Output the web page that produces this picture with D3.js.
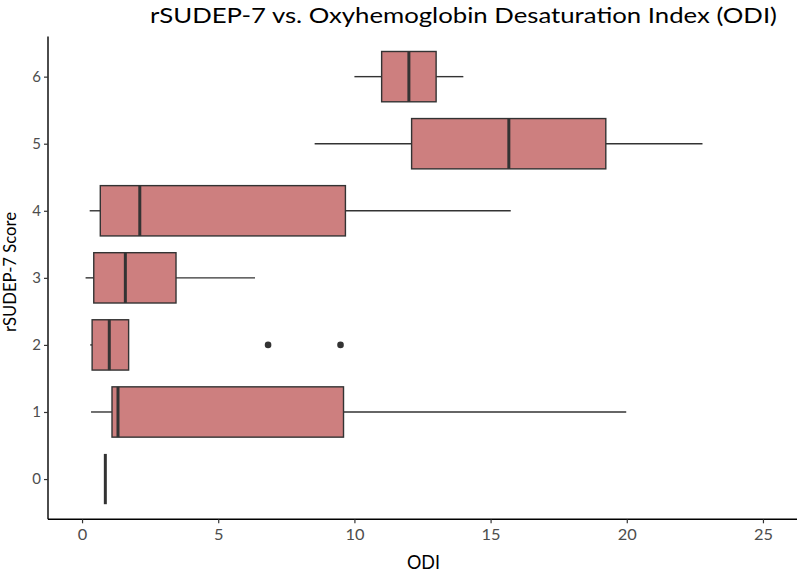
<!DOCTYPE html>
<html><head><meta charset="utf-8">
<script src="https://cdn.jsdelivr.net/npm/d3@7"></script>
<style>body{margin:0;background:#fff;} text{font-family:Lato,"Open Sans",sans-serif;}</style>
</head><body><svg id="c" width="800" height="574"></svg>
<script>
const categories = ["0","1","2","3","4","5","6"];
const whiskerLow = [0.855, 0.33, 0.30, 0.13, 0.28, 8.54, 10.0];
const q1 =         [0.855, 1.10, 0.37, 0.43, 0.67, 12.1, 11.0];
const medians =    [0.855, 1.32, 1.00, 1.59, 2.12, 15.67, 12.0];
const q3 =         [0.855, 9.60, 1.71, 3.45, 9.67, 19.23, 13.0];
const whiskerHigh =[0.855, 19.98, 1.71, 6.35, 15.74, 22.78, 14.0];
const outlierCat = ["2","2"];
const outlierVal = [6.83, 9.49];
const xTicks = [0,5,10,15,20,25];
const title = "rSUDEP-7 vs. Oxyhemoglobin Desaturation Index (ODI)";
const xTitle = "ODI";
const yTitle = "rSUDEP-7 Score";

const svg = d3.select("#c");
const L=48, R=797, T=36.4, B=519.3;
const x = d3.scaleLinear().domain([-1.25, 26.25]).range([L, R]);
const y = d3.scalePoint().domain(categories).range([B, T]).padding(0.6);
const step = y.step();
const bh = step*0.75;

const data = categories.map((c,i)=>({c, lo:whiskerLow[i], q1:q1[i], med:medians[i], q3:q3[i], hi:whiskerHigh[i]}));
const g = svg.append("g");
data.forEach(d=>{
  const cy = y(d.c);
  g.append("line").attr("x1",x(d.lo)).attr("x2",x(d.q1)).attr("y1",cy).attr("y2",cy).attr("stroke","#333").attr("stroke-width",1.4);
  g.append("line").attr("x1",x(d.q3)).attr("x2",x(d.hi)).attr("y1",cy).attr("y2",cy).attr("stroke","#333").attr("stroke-width",1.4);
  if (d.q3 > d.q1) {
    g.append("rect").attr("x",x(d.q1)).attr("y",cy-bh/2).attr("width",x(d.q3)-x(d.q1)).attr("height",bh)
      .attr("fill","#CD7F7F").attr("stroke","#333").attr("stroke-width",1.4);
  }
  g.append("line").attr("x1",x(d.med)).attr("x2",x(d.med)).attr("y1",cy-bh/2).attr("y2",cy+bh/2).attr("stroke","#333").attr("stroke-width",3);
});
outlierVal.forEach((v,i)=>{
  g.append("circle").attr("cx",x(v)).attr("cy",y(outlierCat[i])).attr("r",3.3).attr("fill","#333");
});

// axes
const xa = svg.append("g").attr("transform",`translate(0,${B})`).call(d3.axisBottom(x).tickValues(xTicks).tickSize(4).tickPadding(6).tickSizeOuter(0));
const ya = svg.append("g").attr("transform",`translate(${L},0)`).call(d3.axisLeft(y).tickSize(4).tickPadding(3).tickSizeOuter(0));
[xa,ya].forEach(a=>{
  a.select(".domain").attr("stroke","#000").attr("stroke-width",1.4);
  a.selectAll(".tick line").attr("stroke","#333").attr("stroke-width",1.2);
  a.selectAll(".tick text").attr("fill","#4d4d4d").style("font-size","15px").style("font-family","Lato,'Open Sans',sans-serif");
});
xa.selectAll(".tick text").each(function(){ const t=d3.select(this); t.attr("textLength", t.text().length*9.5).attr("lengthAdjust","spacingAndGlyphs"); });
xa.select(".domain").attr("d",`M${L},0H${R}`);
ya.select(".domain").attr("d",`M0,${T}V${B}`);

svg.append("text").attr("x",150).attr("y",22.5).attr("text-anchor","start").style("font-size","21px").attr("fill","#000")
  .attr("textLength",627).attr("lengthAdjust","spacingAndGlyphs").text(title);
svg.append("text").attr("x",407).attr("y",569).attr("text-anchor","start").style("font-size","20px").attr("fill","#000")
  .attr("textLength",33).attr("lengthAdjust","spacingAndGlyphs").text(xTitle);
svg.append("text").attr("transform",`translate(16,272) rotate(-90)`).attr("text-anchor","middle").style("font-size","17px").attr("fill","#000")
  .attr("textLength",120).attr("lengthAdjust","spacingAndGlyphs").text(yTitle);
</script></body></html>
